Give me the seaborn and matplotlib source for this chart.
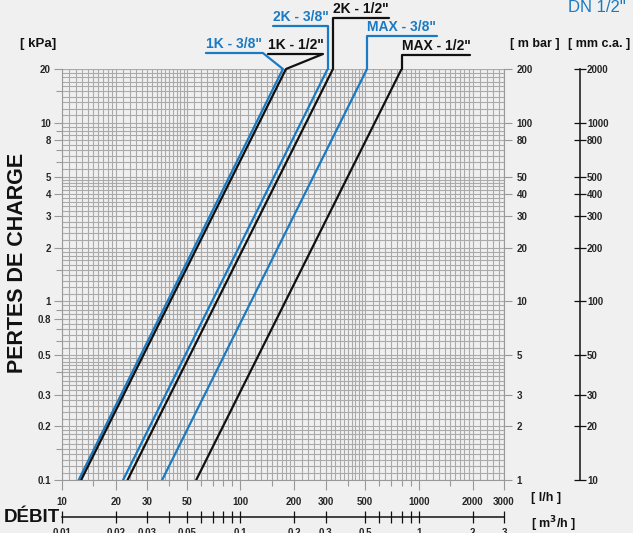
import numpy as np
import pandas as pd
import seaborn as sns
import matplotlib.pyplot as plt
import matplotlib.ticker as mticker

# curves: flow (l/h) read at 0.1 kPa and at 20 kPa
curve_labels = ['1K - 3/8"', '1K - 1/2"', '2K - 3/8"', '2K - 1/2"', 'MAX - 3/8"', 'MAX - 1/2"']
curve_colors = ['#1a7ac3', '#111111', '#1a7ac3', '#111111', '#1a7ac3', '#111111']
flow_at_min = [12.4, 12.8, 22.0, 23.3, 36.4, 56.5]
flow_at_max = [173, 180, 308, 330, 512, 800]
dp_min = 0.1
dp_max = 20

kpa_ticks = [0.1, 0.2, 0.3, 0.5, 0.8, 1, 2, 3, 4, 5, 8, 10, 20]
kpa_minor = [0.15, 0.4, 0.6, 0.7, 0.9, 1.5, 6, 7, 9, 15]
mbar_ticks = [1, 2, 3, 5, 10, 20, 30, 40, 50, 80, 100, 200]
mmca_ticks = [10, 20, 30, 50, 100, 200, 300, 400, 500, 800, 1000, 2000]
flow_ticks = [10, 20, 30, 50, 100, 200, 300, 500, 1000, 2000, 3000]
flow_minor = [15, 40, 60, 70, 80, 90, 150, 400, 600, 700, 800, 900, 1500]
m3h_ticks = [0.01, 0.02, 0.03, 0.05, 0.1, 0.2, 0.3, 0.5, 1, 2, 3]
m3h_minor = [0.04, 0.06, 0.07, 0.08, 0.09, 0.6, 0.7, 0.8, 0.9]

# leader lines from the curve end (pixel offsets)
leader_paths = [
    [(0, 0), (-20, 16), (-77, 16)],
    [(0, 0), (37, 15), (-18, 15)],
    [(0, 0), (0, 43), (-55, 43)],
    [(0, 0), (0, 51), (56, 51)],
    [(0, 0), (0, 33), (70, 33)],
    [(0, 0), (0, 14), (68, 14)],
]

BG = '#f0f0f0'
GRID = '#aaaaaa'
BLUE = '#1a7ac3'

sns.set_theme(style='white')
plt.rcParams['font.family'] = ['Liberation Sans', 'DejaVu Sans']
plt.rcParams['font.weight'] = 'bold'

W, H = 633, 533
fig = plt.figure(figsize=(W / 100, H / 100), dpi=100, facecolor=BG)
ax = fig.add_axes([62 / W, 1 - 480 / H, 442 / W, 411 / H])
ax.set_facecolor(BG)
ax.set_xscale('log')
ax.set_yscale('log')
ax.set_xlim(10, 3000)
ax.set_ylim(dp_min, dp_max)

# log paper grid
grid_mult = np.round(np.concatenate([np.arange(1.0, 2.0, 0.1),
                                     np.arange(2.0, 5.0, 0.2),
                                     np.arange(5.0, 10.0, 0.5)]), 2)
vgrid = [m * 10 ** d for d in (1, 2, 3) for m in grid_mult if m * 10 ** d <= 3000]
hgrid = [m * 10.0 ** d for d in (-1, 0, 1) for m in grid_mult if m * 10.0 ** d <= 20]
ax.vlines(vgrid + [3000], dp_min, dp_max, colors=GRID, lw=0.8, zorder=0)
ax.hlines(hgrid + [20], 10, 3000, colors=GRID, lw=0.8, zorder=0)

rows = []
for lab, q0, q1 in zip(curve_labels, flow_at_min, flow_at_max):
    rows.append((lab, q0, dp_min))
    rows.append((lab, q1, dp_max))
df = pd.DataFrame(rows, columns=['curve', 'flow', 'dp'])
sns.lineplot(data=df, x='flow', y='dp', hue='curve', palette=dict(zip(curve_labels, curve_colors)),
             legend=False, ax=ax, lw=1.6, estimator=None, sort=False, zorder=3)
ax.set_xlabel('')
ax.set_ylabel('')

# left kPa axis
ax.yaxis.set_major_locator(mticker.FixedLocator(kpa_ticks))
ax.yaxis.set_major_formatter(mticker.FixedFormatter([f'{v:g}' for v in kpa_ticks]))
ax.yaxis.set_minor_locator(mticker.FixedLocator(kpa_minor))
ax.yaxis.set_minor_formatter(mticker.NullFormatter())
ax.tick_params(axis='y', which='major', left=True, length=6, width=0.8, color='#999999',
               labelsize=7, pad=2)
ax.tick_params(axis='y', which='minor', left=True, length=4, width=0.8, color='#999999')

# bottom l/h axis
ax.xaxis.set_major_locator(mticker.FixedLocator(flow_ticks))
ax.xaxis.set_major_formatter(mticker.FixedFormatter([f'{v:g}' for v in flow_ticks]))
ax.xaxis.set_minor_locator(mticker.FixedLocator(flow_minor))
ax.xaxis.set_minor_formatter(mticker.NullFormatter())
ax.tick_params(axis='x', which='major', bottom=True, length=7, width=0.8, color='#999999',
               labelsize=7, pad=5)
ax.tick_params(axis='x', which='minor', bottom=True, length=4, width=0.8, color='#999999')

for s in ['top', 'right']:
    ax.spines[s].set_visible(False)
for s in ['left', 'bottom']:
    ax.spines[s].set_color('#999999')
    ax.spines[s].set_linewidth(0.8)

# right mbar axis
ax_mbar = ax.twinx()
ax_mbar.set_yscale('log')
ax_mbar.set_ylim(dp_min * 10, dp_max * 10)
ax_mbar.yaxis.set_major_locator(mticker.FixedLocator(mbar_ticks))
ax_mbar.yaxis.set_major_formatter(mticker.FixedFormatter([f'{v:g}' for v in mbar_ticks]))
ax_mbar.yaxis.set_minor_locator(mticker.NullLocator())
ax_mbar.tick_params(axis='y', length=6, width=0.8, color='#999999', labelsize=7, pad=3)
for s in ['top', 'left', 'bottom']:
    ax_mbar.spines[s].set_visible(False)
ax_mbar.spines['right'].set_color('#999999')
ax_mbar.spines['right'].set_linewidth(0.8)

# mm c.a. axis
ax_mm = ax.twinx()
ax_mm.set_yscale('log')
ax_mm.set_ylim(dp_min * 100, dp_max * 100)
ax_mm.spines['right'].set_position(('axes', (580 - 62) / 442))
ax_mm.yaxis.set_major_locator(mticker.FixedLocator(mmca_ticks))
ax_mm.yaxis.set_major_formatter(mticker.FixedFormatter([f'{v:g}' for v in mmca_ticks]))
ax_mm.yaxis.set_minor_locator(mticker.NullLocator())
ax_mm.tick_params(axis='y', direction='inout', length=8, width=0.9, color='#111111',
                  labelsize=7, pad=1)
for s in ['top', 'left', 'bottom']:
    ax_mm.spines[s].set_visible(False)
ax_mm.spines['right'].set_color('#111111')
ax_mm.spines['right'].set_linewidth(1.1)

# m3/h axis
ax_m3 = ax.twiny()
ax_m3.set_xscale('log')
ax_m3.set_xlim(0.01, 3)
ax_m3.xaxis.set_ticks_position('bottom')
ax_m3.xaxis.set_label_position('bottom')
ax_m3.spines['bottom'].set_position(('outward', 37 * 0.72))
ax_m3.xaxis.set_major_locator(mticker.FixedLocator(m3h_ticks))
ax_m3.xaxis.set_major_formatter(mticker.FixedFormatter([f'{v:g}' for v in m3h_ticks]))
ax_m3.xaxis.set_minor_locator(mticker.FixedLocator(m3h_minor))
ax_m3.xaxis.set_minor_formatter(mticker.NullFormatter())
ax_m3.tick_params(axis='x', which='both', direction='inout', length=8, width=0.9,
                  color='#111111', labelsize=7, pad=4)
for s in ['top', 'left', 'right']:
    ax_m3.spines[s].set_visible(False)
ax_m3.spines['bottom'].set_color('#111111')
ax_m3.spines['bottom'].set_linewidth(1.1)

# leaders and curve labels
to_data = ax.transData.inverted()
for lab, col, q1, path in zip(curve_labels, curve_colors, flow_at_max, leader_paths):
    x0, y0 = ax.transData.transform((q1, dp_max))
    pts = to_data.transform([(x0 + dx, y0 + dy) for dx, dy in path])
    ax.plot(pts[:, 0], pts[:, 1], color=col, lw=1.6, clip_on=False, zorder=4)
    left = min(path[1][0], path[2][0])
    tx, ty = to_data.transform((x0 + left, y0 + path[2][1] + 2))
    ax.text(tx, ty, lab, color=col, fontsize=10, fontweight='bold', ha='left', va='bottom')

fig.text(18 / W, 1 - 263 / H, 'PERTES DE CHARGE', rotation=90, ha='center', va='center',
         fontsize=15.5, fontweight='bold', color='#111111')
fig.text(20 / W, 1 - 44 / H, '[ kPa]', ha='left', va='center', fontsize=9.5, color='#111111')
fig.text(510 / W, 1 - 44 / H, '[ m bar ]', ha='left', va='center', fontsize=9, color='#111111')
fig.text(568 / W, 1 - 44 / H, '[ mm c.a. ]', ha='left', va='center', fontsize=9, color='#111111')
fig.text(568 / W, 1 - 7 / H, 'DN 1/2"', ha='left', va='center', fontsize=12,
         fontweight='normal', color=BLUE)
fig.text(531 / W, 1 - 498 / H, '[ l/h ]', ha='left', va='center', fontsize=9, color='#111111')
fig.text(531 / W, 1 - 524 / H, '[ m$^3$/h ]', ha='left', va='center', fontsize=9, color='#111111')
fig.text(4 / W, 1 - 517 / H, 'DÉBIT', ha='left', va='center', fontsize=13.5,
         fontweight='bold', color='#111111')

fig.savefig('out.png', dpi=100, facecolor=BG)
